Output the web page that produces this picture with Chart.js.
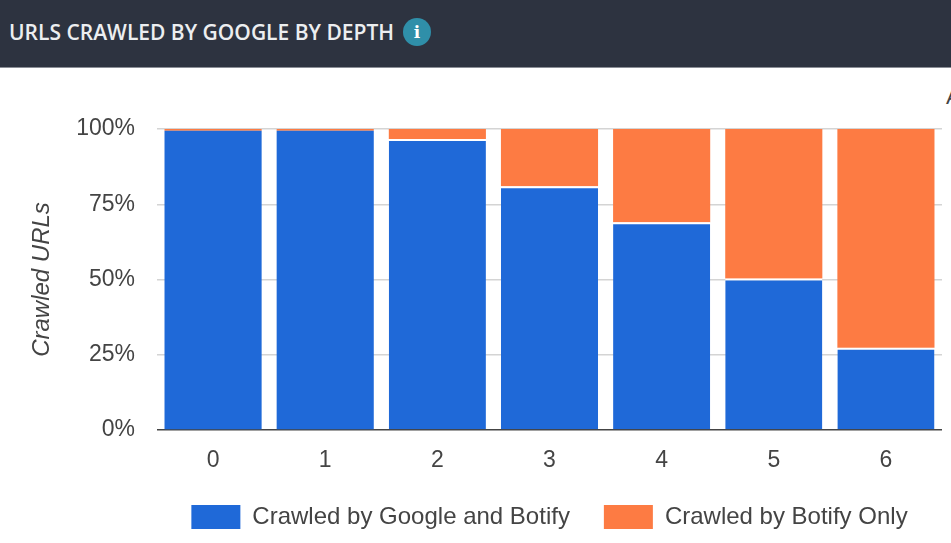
<!DOCTYPE html>
<html>
<head>
<meta charset="utf-8">
<title>URLs crawled by Google by depth</title>
<script src="https://cdn.jsdelivr.net/npm/chart.js@4"></script>
<style>
  html, body { margin: 0; padding: 0; background: #fff; overflow: hidden; }
  #page { position: relative; width: 951px; height: 543px; overflow: hidden; }
  #header {
    position: absolute; left: 0; top: 0; width: 951px; height: 67px;
    background: #2d3340; border-bottom: 1px solid #8a8e96;
  }
  #title {
    position: absolute; left: 9px; top: 18px; color: #eceef0;
    font: 600 21px "Open Sans", sans-serif; white-space: nowrap;
  }
  #info {
    position: absolute; left: 403px; top: 18px; width: 28px; height: 28px; border-radius: 50%;
    background: #2f8fa9; color: #fff; text-align: center;
    font: bold 17px/28px "DejaVu Serif", serif;
  }
  #clipped {
    position: absolute; left: 946px; top: 84px; color: #444;
    font: 22px "Liberation Sans", sans-serif;
  }
  #chart { position: absolute; left: 0; top: 68px; }
</style>
</head>
<body>
<div id="page">
  <div id="header">
    <div id="title">URLS CRAWLED BY GOOGLE BY DEPTH</div>
    <div id="info">i</div>
  </div>
  <div id="clipped">A</div>
  <canvas id="chart" width="951" height="471"></canvas>
</div>
<script>
// Chart data
const depths = ['0', '1', '2', '3', '4', '5', '6'];
const googleAndBotify = [99.4, 99.4, 96.7, 81, 69, 50.3, 27.3];
const botifyOnly = [0.6, 0.6, 3.3, 19, 31, 49.7, 72.7];
const percentTicks = [0, 25, 50, 75, 100];

const textColor = '#444444';
const fontFamily = '"Liberation Sans", Arial, sans-serif';

new Chart(document.getElementById('chart').getContext('2d'), {
  type: 'bar',
  data: {
    labels: depths,
    datasets: [
      {
        label: 'Crawled by Google and Botify',
        data: googleAndBotify,
        backgroundColor: '#1f69d8',
        borderColor: '#ffffff',
        // white seam under the orange, except where the orange is only a hairline
        borderWidth: ctx => ({ top: ctx.raw > 99 ? 0 : 2, right: 0, bottom: 0, left: 0 }),
        borderSkipped: false
      },
      {
        label: 'Crawled by Botify Only',
        data: botifyOnly,
        backgroundColor: '#fd7b43',
        borderWidth: 0
      }
    ]
  },
  options: {
    responsive: false,
    animation: false,
    barPercentage: 0.866,
    categoryPercentage: 1,
    layout: { padding: { left: 28, right: 9, top: 61, bottom: 0 } },
    scales: {
      x: {
        stacked: true,
        afterFit: function(scale) { scale.height = 41; },
        grid: { display: false, drawTicks: false },
        border: { display: false },
        ticks: { color: textColor, padding: 17, font: { family: fontFamily, size: 23 } }
      },
      y: {
        stacked: true,
        min: 0,
        max: 100,
        afterFit: function(scale) { scale.width = 129; },
        afterBuildTicks: function(scale) {
          scale.ticks = percentTicks.map(v => ({ value: v }));
        },
        grid: {
          drawTicks: false,
          lineWidth: 1.5,
          color: ctx => ctx.tick.value === 0 ? '#444444' : '#d4d4d4'
        },
        border: { display: false },
        ticks: {
          color: textColor,
          padding: 22,
          font: { family: fontFamily, size: 23 },
          callback: value => value + '%'
        },
        title: {
          display: true,
          text: 'Crawled URLs',
          color: textColor,
          padding: 0,
          font: { family: fontFamily, size: 24, style: 'italic' }
        }
      }
    },
    plugins: {
      tooltip: { enabled: false },
      legend: {
        position: 'bottom',
        fullSize: false,
        labels: {
          color: textColor,
          boxWidth: 49,
          boxHeight: 24,
          padding: 34,
          font: { family: fontFamily, size: 24 }
        }
      }
    }
  }
});
</script>
</body>
</html>
